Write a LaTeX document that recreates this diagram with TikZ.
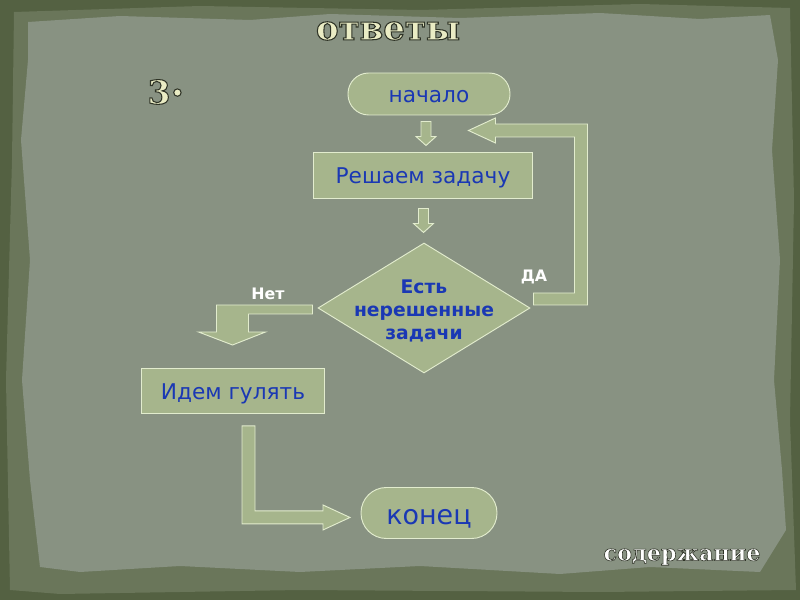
\documentclass[tikz,border=0pt]{standalone}
\usepackage{fontspec}
\setmainfont{DejaVu Sans}
\newfontfamily\headfont{DejaVu Serif}
\usetikzlibrary{shapes.geometric,calc}

\definecolor{frame}{RGB}{84,97,66}
\definecolor{band}{RGB}{106,118,90}
\definecolor{paper}{RGB}{136,146,130}
\definecolor{boxfill}{RGB}{166,181,140}
\definecolor{boxline}{RGB}{226,236,206}
\definecolor{ink}{RGB}{26,56,180}
\definecolor{cream}{RGB}{234,236,196}

\tikzset{
  blk/.style={draw=boxline, fill=boxfill, line width=0.8pt},
  term/.style={blk, rectangle, rounded corners=0.62cm, text=ink,
    text height=14pt, text depth=0pt, font=\fontsize{18.5}{22}\selectfont},
  proc/.style={blk, rectangle, text=ink, text height=15pt, text depth=0pt,
    font=\fontsize{18.5}{22}\selectfont},
  decide/.style={blk, diamond, inner sep=0pt},
  dectext/.style={text=ink, align=center, font=\fontsize{16}{20}\bfseries\selectfont},
  yesno/.style={text=white, font=\fontsize{13.5}{16}\bfseries\selectfont},
  heading/.style={text=cream}
}

% light letters with a dark stroke round them (#1 = stroke width)
\newcommand\stroked[2]{%
  \special{pdf:code q 2 Tr #1 w 0.18 0.2 0.15 RG}#2\special{pdf:code Q}}

\begin{document}
\begin{tikzpicture}[x=0.03cm, y=-0.03cm]
  \useasboundingbox (0,0) rectangle (800,600);

  % torn paper background
  \fill[frame] (0,0) rectangle (800,600);
  \fill[band] (14,12) -- (200,6) -- (420,10) -- (640,4) -- (790,8)
    -- (794,200) -- (790,420) -- (796,590) -- (600,592) -- (300,590)
    -- (60,594) -- (10,590) -- (6,380) -- (12,160) -- cycle;
  \fill[paper] (28,22) -- (120,16) -- (250,20) -- (330,14) -- (460,18)
    -- (600,13) -- (700,19) -- (770,15) -- (778,60) -- (772,150)
    -- (780,260) -- (774,380) -- (782,470) -- (786,530) -- (760,572)
    -- (650,567) -- (560,574) -- (420,566) -- (300,572) -- (180,566)
    -- (80,572) -- (40,567) -- (30,480) -- (22,380) -- (30,260)
    -- (21,140) -- (28,60) -- cycle;

  \node[heading, font=\headfont\bfseries\fontsize{29}{32}\selectfont] (title) at (388,31) {\stroked{0.9}{ответы}};
  \node[heading, font=\headfont\bfseries\fontsize{28}{30}\selectfont] (num) at (166,92) {\stroked{0.9}{3\raisebox{0.25em}{\fontsize{34}{34}\selectfont.}}};
  \node[heading, text=white, font=\headfont\bfseries\fontsize{19}{22}\selectfont] (toc) at (682,557) {\stroked{0.5}{содержание}};

  % flowchart
  \node[term, minimum width=4.86cm, minimum height=1.26cm] (start) at (429,94) {начало};
  \node[proc, minimum width=6.57cm, minimum height=1.38cm] (solve) at (423,175) {Решаем задачу};
  \node[decide, minimum width=6.36cm, minimum height=3.9cm,
    label={[dectext, yshift=-2.5pt]center:Есть\\нерешенные\\задачи}] (ask) at (424,308) {};
  \node[proc, minimum width=5.49cm, minimum height=1.35cm] (walk) at (233,391) {Идем гулять};
  \node[term, minimum width=4.08cm, minimum height=1.53cm, rounded corners=0.76cm,
    text height=20pt, font=\fontsize{23}{26}\selectfont] (stop) at (429,513) {конец};

  % straight block arrows
  \foreach \a/\b in {start/solve,solve/ask} {
    \coordinate (m) at ($(\a.south)!0.5!(\b.north)$);
    \draw[blk, shift={(m)}] (-5,-12) -- (5,-12) -- (5,3) -- (10,3) -- (0,12)
      -- (-10,3) -- (-5,3) -- cycle;
  }

  % ДА: back up to the loop
  \draw[blk, shift={(ask.east)}] (3,-15) -- (44,-15) -- (44,-171) -- (-35,-171)
    -- (-35,-165) -- (-62,-177.5) -- (-35,-190) -- (-35,-184) -- (57,-184)
    -- (57,-3) -- (3,-3) -- cycle;
  \node[yesno] (yes) at (534,277) {ДА};

  % Нет: down to walk
  \draw[blk, shift={(ask.west)}] (-5,-3) -- (-101,-3) -- (-101,24) -- (-119,24)
    -- (-85,37) -- (-52,24) -- (-69,24) -- (-69,6) -- (-5,6) -- cycle;
  \node[yesno] (no) at (268,294) {Нет};

  % walk to stop
  \draw[blk, shift={(walk.south)}] (9,12) -- (22,12) -- (22,97) -- (90,97)
    -- (90,91) -- (117,103.5) -- (90,116) -- (90,110) -- (9,110) -- cycle;
\end{tikzpicture}
\end{document}
